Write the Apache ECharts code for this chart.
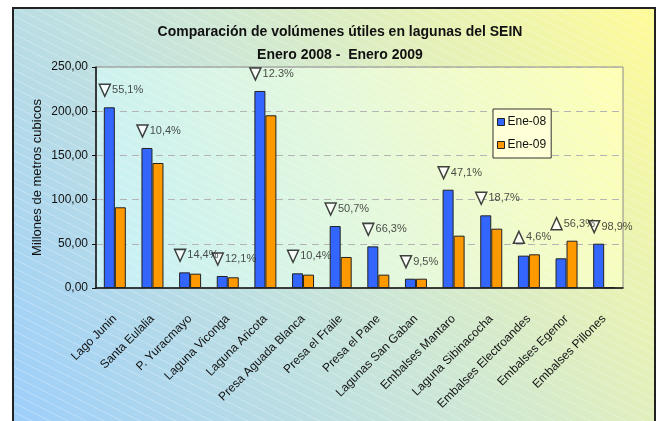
<!DOCTYPE html>
<html>
<head>
<meta charset="utf-8">
<script src="https://cdn.jsdelivr.net/npm/echarts@6/dist/echarts.min.js"></script>
<style>
  html, body { margin: 0; padding: 0; background: #fff; }
  #chart { width: 661px; height: 421px; }
</style>
</head>
<body>
<div id="chart"></div>
<script>
var lagunas = ['Lago Junin', 'Santa Eulalia', 'P. Yuracmayo', 'Laguna Viconga', 'Laguna Aricota',
    'Presa Aguada Blanca', 'Presa el Fraile', 'Presa el Pane', 'Lagunas San Gaban', 'Embalses Mantaro',
    'Laguna Sibinacocha', 'Embalses Electroandes', 'Embalses Egenor', 'Embalses Pillones'];
var ene08 = [204.4, 158.4, 17.7, 13.6, 222.9, 16.6, 70.1, 47.1, 10.5, 111.2, 82.2, 36.6, 33.6, 50.1];
var ene09 = [91.3, 141.4, 16.2, 12.1, 195.4, 15.1, 35.1, 15.1, 10.5, 59.2, 67.1, 38.1, 53.5, 0.6];
var variacion = ['55,1%', '10,4%', '14,4%', '12,1%', '12.3%', '10,4%', '50,7%', '66,3%', '9,5%',
    '47,1%', '18,7%', '4,6%', '56,3%', '98,9%'];
var sentido = ['down', 'down', 'down', 'down', 'down', 'down', 'down', 'down', 'down',
    'down', 'down', 'up', 'up', 'down'];
var yTicks = [0, 50, 100, 150, 200, 250];

var myChart = echarts.init(document.getElementById('chart'));

// diagonal stripes like the excel fill
var tile = document.createElement('canvas');
tile.width = 18;
tile.height = 9;
var ctx = tile.getContext('2d');
ctx.strokeStyle = 'rgba(255,255,255,0.28)';
ctx.lineWidth = 1;
ctx.beginPath();
ctx.moveTo(0, 0);
ctx.lineTo(18, 9);
ctx.stroke();

var grid = {left: 96, top: 67, width: 527, height: 221};

var marcas = [];
for (var i = 0; i < lagunas.length; i++) {
    marcas.push({
        value: [i, Math.max(ene08[i], ene09[i])],
        symbolRotate: sentido[i] === 'down' ? 180 : 0
    });
}

var option = {
    backgroundColor: '#fff',
    animation: false,
    textStyle: {fontFamily: 'Liberation Sans, Arial, sans-serif'},
    graphic: [
        {
            type: 'rect', z: -20, silent: true,
            shape: {x: 13, y: 8, width: 642, height: 430},
            style: {
                fill: new echarts.graphic.LinearGradient(0, 1, 1, 0, [
                    {offset: 0, color: '#9ccefc'},
                    {offset: 0.5, color: '#cde7d6'},
                    {offset: 1, color: '#fffb98'}
                ])
            }
        },
        {
            type: 'rect', z: -19, silent: true,
            shape: {x: grid.left, y: grid.top, width: grid.width, height: grid.height},
            style: {
                fill: new echarts.graphic.LinearGradient(0, 1, 1, 0, [
                    {offset: 0, color: '#c4eff8'},
                    {offset: 0.5, color: '#e4f8dc'},
                    {offset: 1, color: '#ffffb4'}
                ])
            }
        },
        {
            type: 'rect', z: -18, silent: true,
            shape: {x: 13, y: 8, width: 642, height: 430},
            style: {fill: {image: tile, repeat: 'repeat'}}
        },
        {
            type: 'rect', z: 50, silent: true,
            shape: {x: 13, y: 8, width: 642, height: 430},
            style: {fill: 'none', stroke: '#222', lineWidth: 2}
        }
    ],
    title: {
        text: 'Comparación de volúmenes útiles en lagunas del SEIN\nEnero 2008 -  Enero 2009',
        left: 335,
        top: 16,
        textAlign: 'center',
        textStyle: {fontSize: 14, fontWeight: 'bold', color: '#111', lineHeight: 23}
    },
    legend: {
        orient: 'vertical',
        left: 493,
        top: 109,
        padding: [7, 5, 7, 4],
        itemGap: 11,
        itemWidth: 7,
        itemHeight: 7,
        itemStyle: {borderColor: '#222', borderWidth: 1},
        backgroundColor: '#ffffd8',
        borderColor: '#333',
        borderWidth: 1,
        textStyle: {fontSize: 12, color: '#111', padding: [0, 0, 0, -2]},
        data: [{name: 'Ene-08', icon: 'rect'}, {name: 'Ene-09', icon: 'rect'}]
    },
    grid: {
        left: grid.left, top: grid.top, width: grid.width, height: grid.height,
        show: true, borderColor: '#8a8a8a', borderWidth: 1, backgroundColor: 'transparent'
    },
    xAxis: {
        type: 'category',
        data: lagunas,
        axisLine: {lineStyle: {color: '#111', width: 1.5}},
        axisTick: {length: 4, lineStyle: {color: '#111'}},
        axisLabel: {rotate: 45, interval: 0, margin: 29, fontSize: 12, color: '#111'}
    },
    yAxis: {
        type: 'value',
        min: yTicks[0],
        max: yTicks[yTicks.length - 1],
        interval: 50,
        name: 'Millones de metros cubicos',
        nameLocation: 'middle',
        nameGap: 52,
        nameMoveOverlap: false,
        nameTextStyle: {fontSize: 13, color: '#111'},
        axisLine: {show: true, lineStyle: {color: '#111', width: 1.5}},
        axisTick: {show: true, length: 4, lineStyle: {color: '#111'}},
        axisLabel: {
            fontSize: 12, color: '#111', margin: 8,
            formatter: function (v) {
                return v.toFixed(2).replace('.', ',');
            }
        },
        splitLine: {lineStyle: {color: '#b4b4b4', type: [7, 5]}}
    },
    series: [
        {
            name: 'Ene-08',
            type: 'bar',
            data: ene08,
            barGap: '0%',
            barWidth: 11,
            itemStyle: {color: '#3366ff', borderColor: '#222', borderWidth: 1}
        },
        {
            name: 'Ene-09',
            type: 'bar',
            data: ene09,
            barWidth: 11,
            itemStyle: {color: '#ff9900', borderColor: '#222', borderWidth: 1}
        },
        {
            name: 'variacion',
            type: 'scatter',
            data: marcas,
            symbol: 'triangle',
            symbolSize: [11, 12],
            symbolOffset: [-10, -17],
            itemStyle: {color: '#fff', borderColor: '#111', borderWidth: 1.5},
            label: {
                show: true,
                position: 'right',
                distance: 1,
                fontSize: 11,
                color: '#222',
                formatter: function (p) {
                    return variacion[p.dataIndex];
                }
            }
        }
    ]
};

myChart.setOption(option);
</script>
</body>
</html>
